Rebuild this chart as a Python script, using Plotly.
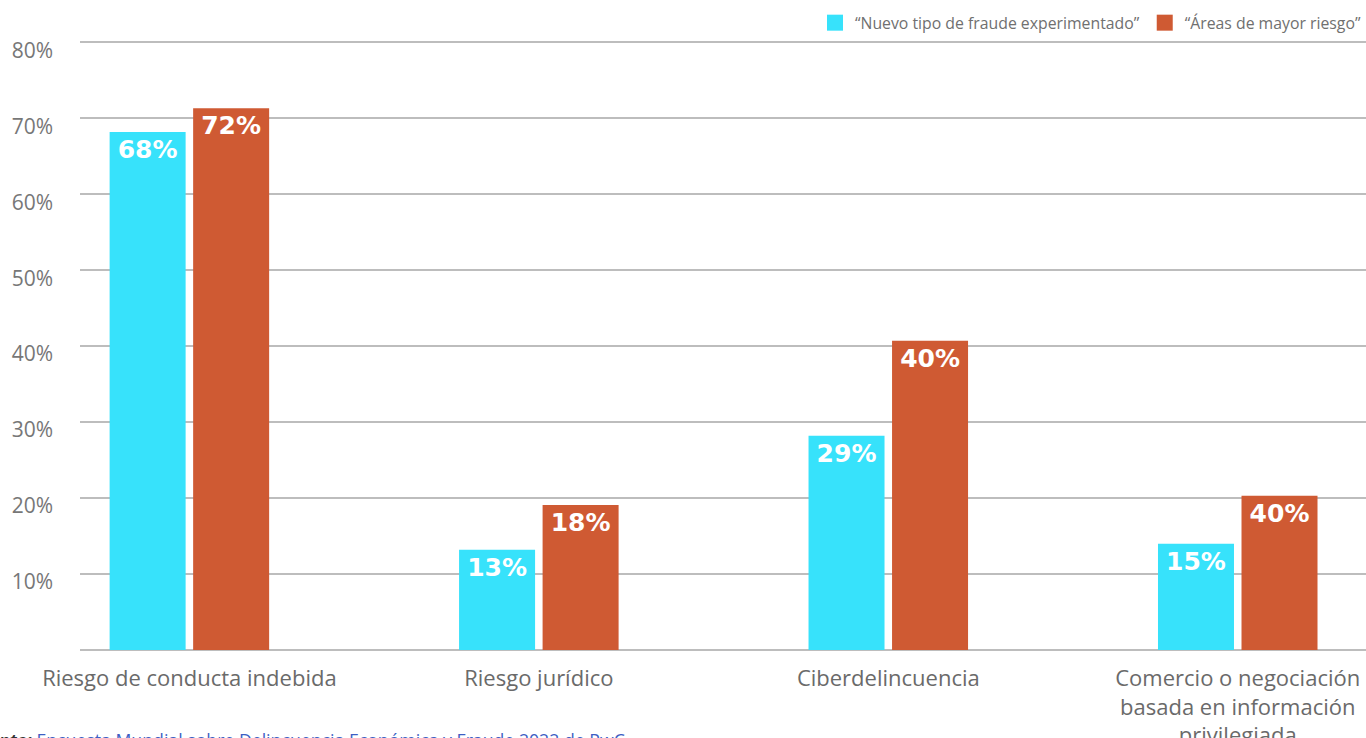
import plotly.graph_objects as go

categories = ["Riesgo de conducta indebida", "Riesgo jurídico", "Ciberdelincuencia",
              "Comercio o negociación<br>basada en información<br>privilegiada"]
series_names = ["“Nuevo tipo de fraude experimentado”", "“Áreas de mayor riesgo”"]
nuevo_values = [68.2, 13.2, 28.2, 14.0]
areas_values = [71.3, 19.1, 40.7, 20.3]
nuevo_labels = ["68%", "13%", "29%", "15%"]
areas_labels = ["72%", "18%", "40%", "40%"]
tick_vals = [10, 20, 30, 40, 50, 60, 70, 80]
tick_text = ["10%", "20%", "30%", "40%", "50%", "60%", "70%", "80%"]

CYAN = "#37e2fb"
ORANGE = "#cf5a33"
GRID = "#bdbdbd"
FONT = "Open Sans"

fig = go.Figure()
for name, vals, labels, color in [
    (series_names[0], nuevo_values, nuevo_labels, CYAN),
    (series_names[1], areas_values, areas_labels, ORANGE),
]:
    fig.add_trace(go.Bar(
        x=categories, y=vals, name=name, marker_color=color, marker_line_width=0,
        text=labels, textposition="inside", insidetextanchor="end",
        textfont=dict(family="DejaVu Sans", size=25, color="white", weight="bold"),
        textangle=0, cliponaxis=False, showlegend=False,
    ))
    # legend-only entry with a larger square swatch
    fig.add_trace(go.Scatter(
        x=[None], y=[None], mode="markers", name=name,
        marker=dict(symbol="square", size=22, color=color), showlegend=True,
    ))

fig.update_layout(
    width=1366, height=738,
    margin=dict(l=80, r=0, t=40, b=88),
    paper_bgcolor="white", plot_bgcolor="white",
    barmode="group", bargap=0.522, bargroupgap=0.09,
    font=dict(family=FONT, color="#6f6f6f"),
    showlegend=True,
    legend=dict(orientation="h", xref="container", yref="container",
                x=1.0, xanchor="right", y=0.992, yanchor="top",
                font=dict(size=15.8, color="#707070", family=FONT),
                bgcolor="rgba(0,0,0,0)", traceorder="normal",
                itemwidth=30, tracegroupgap=0),
    xaxis=dict(range=[-0.313, 3.367], showgrid=False, showline=False, zeroline=False,
               ticks="", tickfont=dict(size=22, color="#6a6a6a", family=FONT),
               ticklabelstandoff=13, fixedrange=True, automargin=False),
    yaxis=dict(range=[0, 80.3], tickvals=tick_vals, ticktext=tick_text,
               showgrid=True, gridcolor=GRID, gridwidth=2,
               zeroline=True, zerolinecolor=GRID, zerolinewidth=2,
               showline=False, ticks="",
               tickfont=dict(size=21, color="#777777", family=FONT),
               ticklabelstandoff=26, ticklabelshift=8, fixedrange=True,
               automargin=False),
)

fig.add_annotation(
    text="<b><i>Fuente:</i></b> <span style='color:#3d5fc4'>Encuesta Mundial sobre Delincuencia Económica y Fraude 2022 de PwC</span>",
    xref="paper", yref="paper", x=-0.088, y=-0.125, xanchor="left", yanchor="top",
    showarrow=False, font=dict(size=17.7, color="#333333", family=FONT),
)

fig.write_html("out.html", config={"displayModeBar": False},
               post_script="document.body.style.margin='0';document.body.style.overflow='hidden';")
